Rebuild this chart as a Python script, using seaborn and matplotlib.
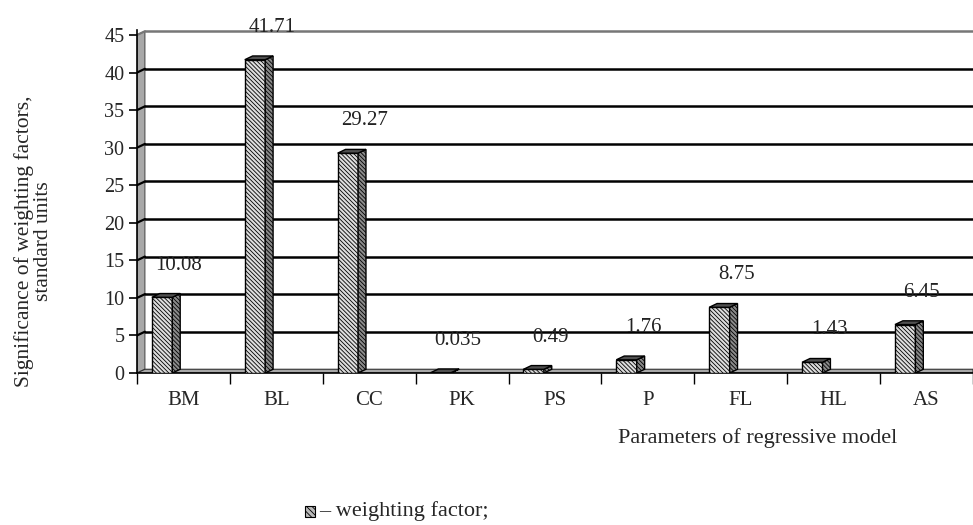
import matplotlib.pyplot as plt
import matplotlib.patches as mpatches
import seaborn as sns
import pandas as pd

# values
categories = ['BM', 'BL', 'CC', 'PK', 'PS', 'P', 'FL', 'HL', 'AS']
weights = [10.08, 41.71, 29.27, 0.035, 0.49, 1.76, 8.75, 1.43, 6.45]
value_labels = ['10.08', '41.71', '29.27', '0.035', '0.49', '1.76', '8.75', '1.43', '6.45']
y_ticks = [0, 5, 10, 15, 20, 25, 30, 35, 40, 45]

df = pd.DataFrame({'Parameter': categories, 'Weight': weights})

sns.set_style('white')
plt.rcParams['font.family'] = ['Liberation Serif', 'DejaVu Serif']
plt.rcParams['hatch.linewidth'] = 0.6

fig = plt.figure(figsize=(9.73, 5.25), dpi=100)
ax = fig.add_axes([0.1408, 0.2895, 0.8592, 0.6534])

HATCH = '\\' * 8
sns.barplot(data=df, x='Parameter', y='Weight', color='#dddddd', saturation=1,
            width=0.22, edgecolor='black', linewidth=1, hatch=HATCH, ax=ax, zorder=4)

# pseudo 3D depth
dx, dy = 0.085, 0.5
xmin, xmax = -0.27, 8.73
ax.set_xlim(xmin, xmax)
ax.set_ylim(0, 45.67)

# left wall and floor
ax.add_patch(mpatches.Polygon([(xmin, 0), (xmin + dx, dy), (xmin + dx, 45 + dy), (xmin, 45)],
                              closed=True, facecolor='#a8a8a8', edgecolor='#505050', lw=0.8, zorder=1))
ax.add_patch(mpatches.Polygon([(xmin, 0), (xmin + dx, dy), (xmax, dy), (xmax, 0)],
                              closed=True, facecolor='#a8a8a8', edgecolor='#303030', lw=0.8, zorder=1))

# back wall gridlines
for t in y_ticks[1:]:
    col = '#777777' if t == 45 else 'black'
    ax.plot([xmin, xmin + dx], [t, t + dy], color=col, lw=1.6, zorder=2)
    ax.plot([xmin + dx, xmax], [t + dy, t + dy], color=col, lw=1.8, zorder=2)

# side and top faces of the bars, plus value labels
for p, lab in zip(ax.patches[:len(categories)], value_labels):
    x0, w, h = p.get_x(), p.get_width(), p.get_height()
    side = [(x0 + w, 0), (x0 + w + dx, dy), (x0 + w + dx, h + dy), (x0 + w, h)]
    top = [(x0, h), (x0 + dx, h + dy), (x0 + w + dx, h + dy), (x0 + w, h)]
    ax.add_patch(mpatches.Polygon(side, closed=True, facecolor='#8a8a8a', edgecolor='black',
                                  hatch=HATCH, lw=1, zorder=4))
    ax.add_patch(mpatches.Polygon(top, closed=True, facecolor='#505050', edgecolor='black',
                                  lw=1, zorder=4))
    ax.text(x0 + w / 2 + 0.18, h + 4.3, lab, ha='center', va='center', fontsize=15,
            color='#222222', clip_on=False, zorder=5)

# axes, ticks
for s in ['top', 'right']:
    ax.spines[s].set_visible(False)
for s in ['left', 'bottom']:
    ax.spines[s].set_color('black')
    ax.spines[s].set_linewidth(1.2)
    ax.spines[s].set_zorder(3)

ax.set_yticks(y_ticks)
ax.set_yticklabels([str(t) for t in y_ticks], fontsize=14.5)
ax.tick_params(axis='y', direction='out', length=6, width=1.2, color='black', pad=3, left=True)

ax.set_xticks([i + 0.23 for i in range(len(categories))])
ax.set_xticklabels(categories, fontsize=15)
ax.tick_params(axis='x', which='major', length=0, pad=13)
ax.set_xticks([i - 0.27 for i in range(len(categories) + 1)], minor=True)
ax.tick_params(axis='x', which='minor', direction='out', length=8, width=1, color='black', bottom=True)

ax.set_xlabel('')
ax.set_ylabel('')
ax.grid(False)

fig.text(758 / 973, 1 - 438 / 525, 'Parameters of regressive model', ha='center', va='center', fontsize=16)
fig.text(0.034, 0.541, 'Significance of weighting factors,\nstandard units', rotation=90,
         ha='center', va='center', fontsize=15.5, linespacing=1.0)

# legend at the bottom
fig.add_artist(mpatches.Rectangle((305 / 973, 1 - 517 / 525), 10 / 973, 11 / 525,
                                  transform=fig.transFigure, facecolor='#bbbbbb',
                                  edgecolor='black', hatch='\\' * 6, lw=0.8))
fig.text(319 / 973, 1 - 511 / 525, '\u2013 weighting factor;', ha='left', va='center', fontsize=16)

fig.savefig('out.png', dpi=100, facecolor='white')
